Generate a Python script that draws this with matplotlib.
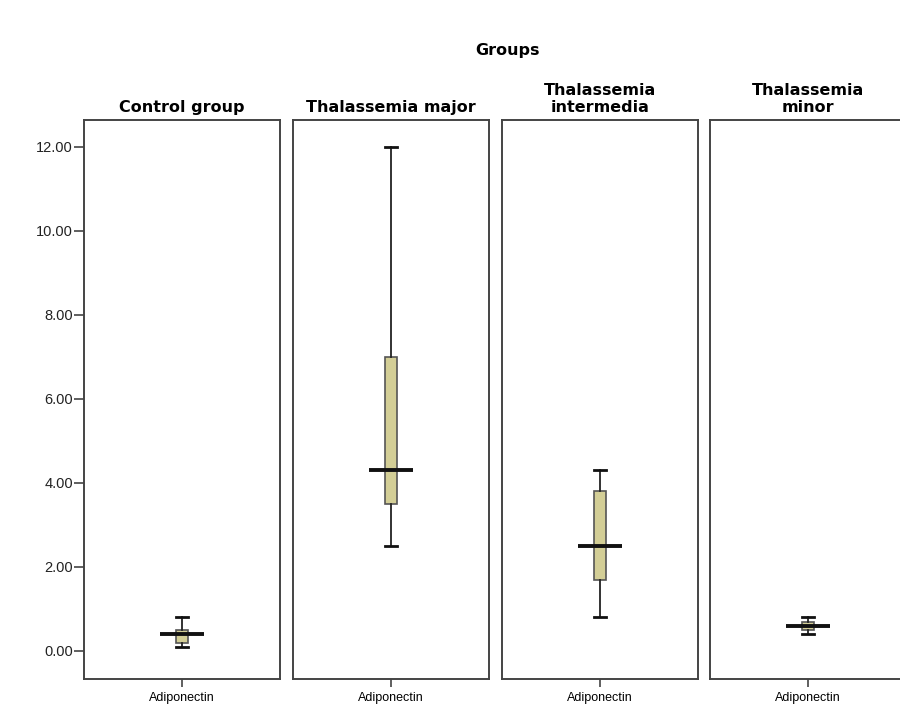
import matplotlib.pyplot as plt

# Данные с графика (усы, квартили, медиана)
groups = ['Control group', 'Thalassemia major', 'Thalassemia\nintermedia', 'Thalassemia\nminor']
whisker_low = [0.1, 2.5, 0.8, 0.4]
q1 = [0.2, 3.5, 1.7, 0.5]
median = [0.4, 4.3, 2.5, 0.6]
q3 = [0.5, 7.0, 3.8, 0.7]
whisker_high = [0.8, 12.0, 4.3, 0.8]
variable = 'Adiponectin'
y_ticks = [0, 2, 4, 6, 8, 10, 12]

fig = plt.figure(figsize=(9, 7.11), dpi=100)

lefts = [84, 293, 502, 710]
pw = 196
bottom = 1 - 679 / 711
height = (679 - 120) / 711
edge = '#444444'
fill = '#d3ce96'

for i, g in enumerate(groups):
    ax = fig.add_axes([lefts[i] / 900, bottom, pw / 900, height])
    stats = [{'whislo': whisker_low[i], 'q1': q1[i], 'med': median[i],
              'q3': q3[i], 'whishi': whisker_high[i], 'fliers': []}]
    ax.bxp(stats, positions=[0.5], widths=0.06, capwidths=0.06, patch_artist=True,
           boxprops=dict(facecolor=fill, edgecolor='#555555', linewidth=1.2),
           whiskerprops=dict(color='#222222', linewidth=1.3),
           capprops=dict(color='#111111', linewidth=2),
           medianprops=dict(linewidth=0))
    # медиана — широкая линия поверх ящика
    ax.plot([0.39, 0.61], [median[i], median[i]], color='#111111', linewidth=2.8,
            solid_capstyle='butt', zorder=5)
    ax.set_xlim(0, 1)
    ax.set_ylim(-0.667, 12.64)
    ax.set_xticks([0.5])
    ax.set_xticklabels([variable], fontsize=9, family='Liberation Sans')
    for s in ax.spines.values():
        s.set_color(edge)
        s.set_linewidth(1.4)
    ax.tick_params(axis='x', length=6, width=1.2, color=edge)
    if i == 0:
        ax.set_yticks(y_ticks)
        ax.set_yticklabels(['%.2f' % v for v in y_ticks], fontsize=10.5,
                           family='Liberation Sans', color='#222222')
        ax.tick_params(axis='y', length=7, width=1.2, color=edge, pad=1)
    else:
        ax.set_yticks([])
    ax.set_title(g, fontsize=11.5, fontweight='bold', linespacing=1.1, pad=6)

fig.text(508 / 900, 1 - 50 / 711, 'Groups', ha='center', va='center',
         fontsize=11.5, fontweight='bold')

fig.savefig('out.png', dpi=100)
